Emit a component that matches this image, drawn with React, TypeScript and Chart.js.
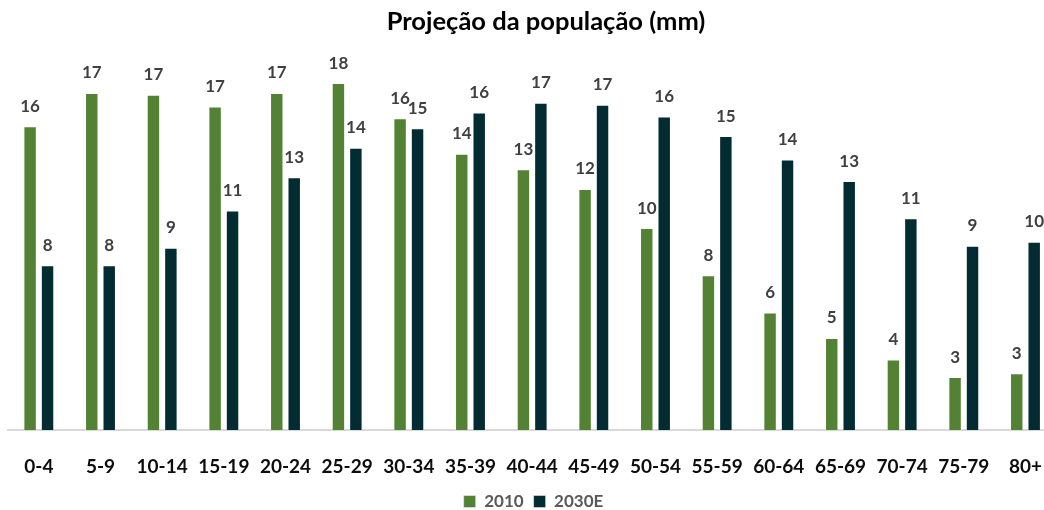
import React, { useEffect, useRef } from "react";
import { Chart, registerables } from "chart.js";

Chart.register(...registerables);

const categories = ["0-4", "5-9", "10-14", "15-19", "20-24", "25-29", "30-34", "35-39", "40-44", "45-49", "50-54", "55-59", "60-64", "65-69", "70-74", "75-79", "80+"];
const values2010 = [15.5, 17.2, 17.1, 16.5, 17.2, 17.7, 15.9, 14.1, 13.3, 12.3, 10.3, 7.9, 6.0, 4.7, 3.6, 2.7, 2.9];
const values2030 = [8.4, 8.4, 9.3, 11.2, 12.9, 14.4, 15.4, 16.2, 16.7, 16.6, 16.0, 15.0, 13.8, 12.7, 10.8, 9.4, 9.6];
const seriesLabels = ["2010", "2030E"];
const titleText = "Projeção da população (mm)";

const FONT = "Lato, 'Open Sans', sans-serif";

const titlePlugin = {
  id: "customTitle",
  afterDraw(chart: any) {
    const ctx = chart.ctx;
    ctx.save();
    ctx.font = `bold 25.5px ${FONT}`;
    ctx.fillStyle = "#000000";
    ctx.textAlign = "center";
    ctx.textBaseline = "alphabetic";
    ctx.fillText(titleText, 546, 29.5);
    ctx.restore();
  },
};

const dataLabelPlugin = {
  id: "barValueLabels",
  afterDatasetsDraw(chart: any) {
    const ctx = chart.ctx;
    ctx.save();
    ctx.font = `bold 17px ${FONT}`;
    ctx.fillStyle = "#404040";
    ctx.textAlign = "center";
    ctx.textBaseline = "alphabetic";
    chart.data.datasets.forEach((ds: any, di: number) => {
      const meta = chart.getDatasetMeta(di);
      meta.data.forEach((bar: any, i: number) => {
        const v = ds.data[i];
        ctx.fillText(String(Math.round(v)), bar.x, bar.y - 14.5);
      });
    });
    ctx.restore();
  },
};

export default function App() {
  const ref = useRef<HTMLCanvasElement | null>(null);

  useEffect(() => {
    if (!ref.current) return;
    const chart = new Chart(ref.current, {
      type: "bar",
      data: {
        labels: categories,
        datasets: [
          {
            label: seriesLabels[0],
            data: values2010,
            backgroundColor: "#548235",
            borderColor: "rgba(255,255,255,0.45)",
            borderWidth: 1,
            categoryPercentage: 0.566,
            barPercentage: 0.77,
          },
          {
            label: seriesLabels[1],
            data: values2030,
            backgroundColor: "#022B32",
            borderColor: "rgba(255,255,255,0.45)",
            borderWidth: 1,
            categoryPercentage: 0.566,
            barPercentage: 0.77,
          },
        ],
      },
      options: {
        responsive: false,
        animation: false,
        devicePixelRatio: 1,
        layout: { padding: { left: 8, right: 0, top: 38, bottom: 0 } },
        plugins: {
          title: { display: false },
          tooltip: { enabled: false },
          legend: {
            display: true,
            position: "bottom",
            labels: {
              boxWidth: 12,
              boxHeight: 12,
              padding: 10,
              color: "#595959",
              font: { family: FONT, size: 17, weight: "bold" },
            },
          },
        },
        scales: {
          x: {
            grid: { display: false },
            border: { display: true, color: "#d9d9d9", width: 2 },
            ticks: {
              color: "#0d0d0d",
              padding: 17,
              maxRotation: 0,
              autoSkip: false,
              font: { family: FONT, size: 19, weight: "bold" },
            },
            afterFit: (scale: any) => {
              scale.height = 53;
            },
          },
          y: {
            display: false,
            min: 0,
            max: 20,
          },
        },
      },
      plugins: [titlePlugin, dataLabelPlugin],
    });
    return () => chart.destroy();
  }, []);

  return (
    <div
      style={{
        position: "fixed",
        left: 0,
        top: 0,
        width: 1044,
        height: 510,
        overflow: "hidden",
        background: "#ffffff",
      }}
    >
      <canvas ref={ref} width={1059} height={520} style={{ display: "block" }} />
    </div>
  );
}
